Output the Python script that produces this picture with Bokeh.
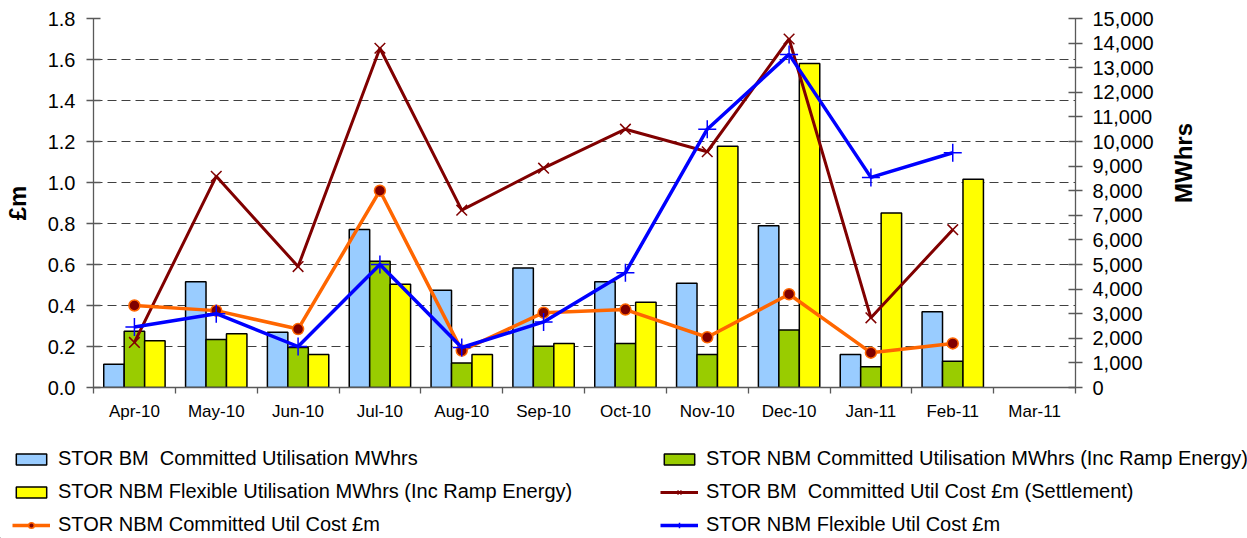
import math
from bokeh.plotting import figure
from bokeh.models import (Range1d, LinearAxis, FixedTicker, NumeralTickFormatter,
                          CustomJSTickFormatter, Legend, LegendItem, Grid)
from bokeh.embed import file_html
from bokeh.resources import INLINE

months = ["Apr-10", "May-10", "Jun-10", "Jul-10", "Aug-10", "Sep-10",
          "Oct-10", "Nov-10", "Dec-10", "Jan-11", "Feb-11", "Mar-11"]

# MWhrs (right axis)
bm_committed_mwh = [950, 4300, 2250, 6420, 3950, 4860, 4300, 4240, 6580, 1340, 3080, None]
nbm_committed_mwh = [2290, 1950, 1630, 5130, 1000, 1680, 1790, 1340, 2340, 840, 1070, None]
nbm_flexible_mwh = [1900, 2180, 1340, 4200, 1340, 1790, 3470, 9810, 13170, 7090, 8470, None]

# £m (left axis)
bm_committed_cost = [0.22, 1.03, 0.59, 1.655, 0.865, 1.07, 1.26, 1.15, 1.70, 0.34, 0.77, None]
nbm_committed_cost = [0.40, 0.375, 0.285, 0.96, 0.18, 0.365, 0.38, 0.245, 0.455, 0.17, 0.215, None]
nbm_flexible_cost = [0.295, 0.36, 0.20, 0.60, 0.195, 0.32, 0.56, 1.26, 1.625, 1.025, 1.145, None]

left_ticks = [0.0, 0.2, 0.4, 0.6, 0.8, 1.0, 1.2, 1.4, 1.6, 1.8]
right_ticks = list(range(0, 15001, 1000))

FONT = "Liberation Sans"

BLUE_BAR = "#99CCFF"
GREEN_BAR = "#99CC00"
YELLOW_BAR = "#FFFF00"
DARK_RED = "#800000"
ORANGE = "#FF6600"
BLUE = "#0000FF"


def present(vals, offset):
    xs, ys = [], []
    for i, v in enumerate(vals):
        if v is not None:
            xs.append(i + 0.5 + offset)
            ys.append(v)
    return xs, ys


p = figure(width=1247, height=430, output_backend="svg", toolbar_location=None,
           x_range=Range1d(0, 12), y_range=Range1d(0, 1.8),
           x_axis_type=None, y_axis_type=None,
           min_border_left=93, min_border_right=172, min_border_top=18,
           min_border_bottom=43)
p.outline_line_color = None
p.extra_y_ranges = {"mwh": Range1d(0, 15000)}

axis_col = "#595959"

left = LinearAxis(ticker=FixedTicker(ticks=left_ticks),
                  formatter=NumeralTickFormatter(format="0.0"),
                  axis_label="£m")
right = LinearAxis(y_range_name="mwh", ticker=FixedTicker(ticks=right_ticks),
                   formatter=NumeralTickFormatter(format="0,0"),
                   axis_label="MWhrs")
bottom = LinearAxis(ticker=FixedTicker(ticks=[i + 0.5 for i in range(12)],
                                       minor_ticks=list(range(13))),
                    formatter=CustomJSTickFormatter(args=dict(labels=months),
                                                    code="return labels[Math.round(tick - 0.5)];"))

for ax in (left, right):
    ax.axis_line_color = axis_col
    ax.axis_line_width = 1.3
    ax.major_tick_line_color = axis_col
    ax.major_tick_line_width = 1.3
    ax.major_tick_in = 7
    ax.major_tick_out = 7
    ax.minor_tick_line_color = None
    ax.major_label_text_font = FONT
    ax.major_label_text_font_size = "20px"
    ax.major_label_text_color = "black"
    ax.major_label_standoff = 10
    ax.axis_label_text_font = FONT
    ax.axis_label_text_font_size = "24px"
    ax.axis_label_text_font_style = "bold"
    ax.axis_label_text_color = "black"

left.major_label_standoff = 11
left.axis_label_standoff = 14
right.axis_label_standoff = 27
right.axis_label_orientation = math.pi / 2

bottom.axis_line_color = axis_col
bottom.axis_line_width = 1.3
bottom.major_tick_line_color = None
bottom.major_tick_in = 0
bottom.major_tick_out = 0
bottom.minor_tick_line_color = axis_col
bottom.minor_tick_line_width = 1.3
bottom.minor_tick_in = 0
bottom.minor_tick_out = 6
bottom.major_label_text_font = FONT
bottom.major_label_text_font_size = "17px"
bottom.major_label_text_color = "black"
bottom.major_label_standoff = 8

p.add_layout(left, "left")
p.add_layout(right, "right")
p.add_layout(bottom, "below")

grid = Grid(dimension=1, ticker=FixedTicker(ticks=left_ticks[1:]))
grid.grid_line_color = "#404040"
grid.grid_line_dash = "9 5"
grid.grid_line_width = 1.2
p.add_layout(grid)

bar_w = 0.25
bar_style = dict(line_color="black", line_width=1.5)
xb, yb = present(bm_committed_mwh, -0.25)
p.vbar(x=xb, top=yb, bottom=0, width=bar_w, y_range_name="mwh", fill_color=BLUE_BAR, **bar_style)
xg, yg = present(nbm_committed_mwh, 0.0)
p.vbar(x=xg, top=yg, bottom=0, width=bar_w, y_range_name="mwh", fill_color=GREEN_BAR, **bar_style)
xy, yy = present(nbm_flexible_mwh, 0.25)
p.vbar(x=xy, top=yy, bottom=0, width=bar_w, y_range_name="mwh", fill_color=YELLOW_BAR, **bar_style)

red_line = dict(line_color=DARK_RED, line_width=3)
red_mark = dict(marker="x", size=15, line_color=DARK_RED, line_width=1.5)
orange_line = dict(line_color=ORANGE, line_width=3.5)
orange_mark = dict(marker="circle", size=11, fill_color=DARK_RED, line_color=ORANGE, line_width=1.5)
blue_line = dict(line_color=BLUE, line_width=3.5)
blue_mark = dict(marker="cross", size=18, line_color=BLUE, line_width=1.5)

xr, yr = present(bm_committed_cost, 0.0)
p.line(xr, yr, **red_line)
p.scatter(xr, yr, **red_mark)
xo, yo = present(nbm_committed_cost, 0.0)
p.line(xo, yo, **orange_line)
p.scatter(xo, yo, **orange_mark)
xbl, ybl = present(nbm_flexible_cost, 0.0)
p.line(xbl, ybl, **blue_line)
p.scatter(xbl, ybl, **blue_mark)

# Legend panel: a separate root figure whose frame covers its full width
q = figure(width=1247, height=108, output_backend="svg", toolbar_location=None,
           x_range=Range1d(0, 1), y_range=Range1d(0, 1),
           x_axis_type=None, y_axis_type=None, min_border=0)
q.outline_line_color = None

# proxy glyphs sit far outside the visible range; they only feed the legend swatches
g_blue = q.vbar(x=[-10], top=[-10], bottom=[-11], width=0.1, fill_color=BLUE_BAR, **bar_style)
g_green = q.vbar(x=[-10], top=[-10], bottom=[-11], width=0.1, fill_color=GREEN_BAR, **bar_style)
g_yellow = q.vbar(x=[-10], top=[-10], bottom=[-11], width=0.1, fill_color=YELLOW_BAR, **bar_style)
g_rl = q.line([-11, -10], [-10, -10], **red_line)
g_rm = q.scatter([-10], [-10], **red_mark)
g_ol = q.line([-11, -10], [-10, -10], **orange_line)
g_om = q.scatter([-10], [-10], **orange_mark)
g_bl = q.line([-11, -10], [-10, -10], **blue_line)
g_bm = q.scatter([-10], [-10], **blue_mark)


def make_legend(items, loc):
    lg = Legend(items=items, location=loc, orientation="vertical")
    lg.label_text_font = FONT
    lg.label_text_font_size = "20px"
    lg.label_text_color = "black"
    lg.glyph_width = 38
    lg.glyph_height = 14
    lg.label_height = 22
    lg.label_standoff = 8
    lg.spacing = 10
    lg.padding = 0
    lg.margin = 0
    lg.border_line_color = None
    lg.background_fill_alpha = 0
    return lg


legend_left = make_legend([
    LegendItem(label="STOR BM  Committed Utilisation MWhrs", renderers=[g_blue]),
    LegendItem(label="STOR NBM Flexible Utilisation MWhrs (Inc Ramp Energy)", renderers=[g_yellow]),
    LegendItem(label="STOR NBM Committed Util Cost £m", renderers=[g_ol, g_om]),
], (12, 2))
legend_right = make_legend([
    LegendItem(label="STOR NBM Committed Utilisation MWhrs (Inc Ramp Energy)", renderers=[g_green]),
    LegendItem(label="STOR BM  Committed Util Cost £m (Settlement)", renderers=[g_rl, g_rm]),
    LegendItem(label="STOR NBM Flexible Util Cost £m", renderers=[g_bl, g_bm]),
], (660, 2))
q.add_layout(legend_left)
q.add_layout(legend_right)

open("out.html", "w").write(file_html([p, q], INLINE))
